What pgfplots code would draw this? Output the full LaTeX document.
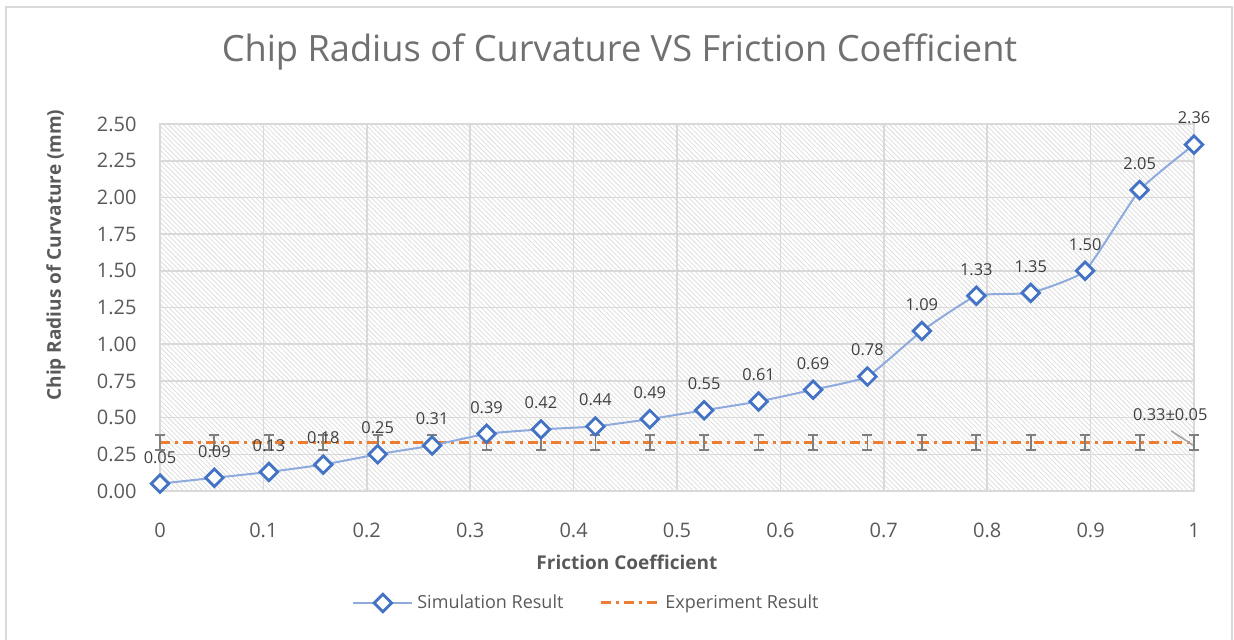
\documentclass[border=0pt]{standalone}
\usepackage{fontspec}
\setmainfont{Open Sans}
\usepackage{pgfplots}
\usepackage{pgfplotstable}
\pgfplotsset{compat=1.18}
\usetikzlibrary{patterns.meta}

\definecolor{simblue}{HTML}{4472C4}
\definecolor{simline}{HTML}{8FAADC}
\definecolor{exporange}{HTML}{ED7D31}
\definecolor{gridgray}{HTML}{D9D9D9}
\definecolor{txtgray}{HTML}{595959}
\definecolor{titlegray}{HTML}{707070}
\definecolor{lblgray}{HTML}{404040}
\definecolor{errgray}{HTML}{7F7F7F}
\definecolor{hatchgray}{HTML}{DCDCDC}

% simulation: friction coefficient vs chip radius (mm)
\pgfplotstableread{
x      y
0.0000 0.05
0.0526 0.09
0.1053 0.13
0.1579 0.18
0.2105 0.25
0.2632 0.31
0.3158 0.39
0.3684 0.42
0.4211 0.44
0.4737 0.49
0.5263 0.55
0.5789 0.61
0.6316 0.69
0.6842 0.78
0.7368 1.09
0.7895 1.33
0.8421 1.35
0.8947 1.50
0.9474 2.05
1.0000 2.36
}\simdata

% experiment: 0.33 +- 0.05
\pgfplotstableread{
x      y    e
0.0000 0.33 0.05
0.0526 0.33 0.05
0.1053 0.33 0.05
0.1579 0.33 0.05
0.2105 0.33 0.05
0.2632 0.33 0.05
0.3158 0.33 0.05
0.3684 0.33 0.05
0.4211 0.33 0.05
0.4737 0.33 0.05
0.5263 0.33 0.05
0.5789 0.33 0.05
0.6316 0.33 0.05
0.6842 0.33 0.05
0.7368 0.33 0.05
0.7895 0.33 0.05
0.8421 0.33 0.05
0.8947 0.33 0.05
0.9474 0.33 0.05
1.0000 0.33 0.05
}\expdata

\begin{document}
\begin{tikzpicture}[x=1pt,y=1pt]
\useasboundingbox (0,0) rectangle (617,-319.5);
\draw[gridgray, line width=0.8pt] (3,-330) -- (3,-3.5) -- (616,-3.5) -- (616,-330);
\node[font=\fontsize{18.1}{21}\selectfont, text=titlegray] at (309.75,-26)
  {Chip Radius of Curvature VS Friction Coefficient};
\begin{axis}[
    at={(80pt,-245.5pt)}, anchor=south west,
    scale only axis, width=517pt, height=183.5pt,
    xmin=0, xmax=1, ymin=0, ymax=2.5,
    clip=false,
    /pgf/number format/assume math mode=true,
    xtick={0,0.1,0.2,0.3,0.4,0.5,0.6,0.7,0.8,0.9,1},
    xticklabels={0,0.1,0.2,0.3,0.4,0.5,0.6,0.7,0.8,0.9,1},
    ytick={0,0.25,0.5,0.75,1,1.25,1.5,1.75,2,2.25,2.5},
    yticklabels={0.00,0.25,0.50,0.75,1.00,1.25,1.50,1.75,2.00,2.25,2.50},
    tick style={draw=none},
    ticklabel style={font=\fontsize{10}{12}\selectfont, text=txtgray},
    xticklabel style={anchor=center, inner sep=0pt, yshift=-19.5pt},
    yticklabel style={anchor=east, inner sep=0pt, xshift=-11.5pt},
    grid=major,
    major grid style={gridgray, line width=0.8pt},
    axis line style={gridgray, line width=0.8pt},
    axis background/.style={pattern={Lines[angle=-45,distance=1.7pt,line width=0.38pt]}, pattern color=hatchgray},
    xlabel={\textbf{Friction Coefficient}},
    ylabel={\textbf{Chip Radius of Curvature (mm)}},
    label style={font=\fontsize{9.5}{11}\selectfont, text=txtgray},
    xlabel style={at={(rel axis cs:0.4516,-0.193)}, anchor=center, inner sep=0pt},
    ylabel style={at={(rel axis cs:-0.1006,0.643)}, anchor=center, inner sep=0pt, rotate=0},
    legend columns=2,
    reverse legend,
    legend style={at={(rel axis cs:0.4134,-0.305)}, anchor=center, draw=none, fill=none,
        font=\fontsize{9}{11}\selectfont, text=txtgray,
        /tikz/every even column/.append style={column sep=16pt}},
    legend image code/.code={\draw[mark repeat=2,mark phase=2,#1]
        plot coordinates {(0pt,0pt) (14.75pt,0pt) (29.5pt,0pt)};},
]
\addplot[exporange, line width=1.5pt, dash pattern=on 5pt off 2.5pt on 1.5pt off 2.5pt, mark=none,
    error bars/.cd, y dir=both, y explicit,
    error bar style={errgray, line width=0.9pt, solid},
    error mark options={errgray, line width=0.9pt, mark size=2.5pt, rotate=90, solid}]
    table[x=x, y=y, y error=e] {\expdata};
\addlegendentry{Experiment Result}
\addplot[simline, line width=1pt, smooth, tension=0.25,
    mark=square*, mark size=3.1pt,
    mark options={draw=simblue, fill=white, line width=1.4pt, rotate=45, solid},
    nodes near coords,
    every node near coord/.append style={font=\fontsize{8.2}{10}\selectfont, text=lblgray,
        anchor=south, inner sep=0pt, yshift=9.5pt,
        /pgf/number format/.cd, fixed, fixed zerofill, precision=2}]
    table[x=x, y=y] {\simdata};
\addlegendentry{Simulation Result}
\draw[errgray!70, line width=0.8pt] (axis cs:0.978,0.409) -- (axis cs:0.999,0.313);
\node[font=\fontsize{8.2}{10}\selectfont, text=lblgray] at (axis cs:0.977,0.518) {0.33±0.05};
\end{axis}
\end{tikzpicture}
\end{document}
